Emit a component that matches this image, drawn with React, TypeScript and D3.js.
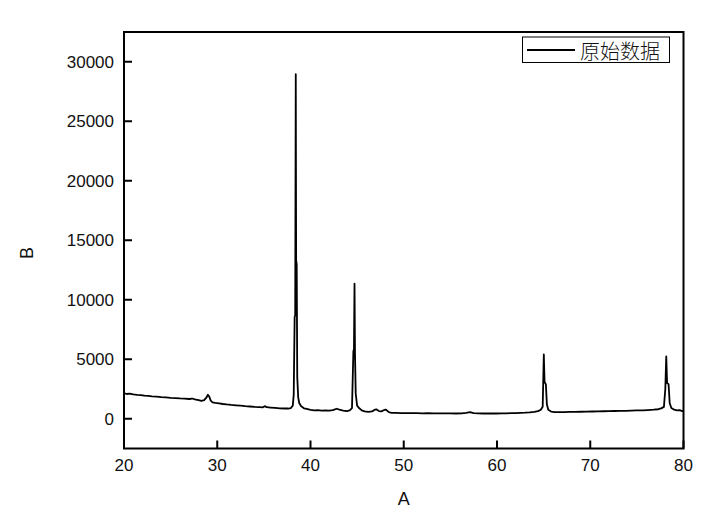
import React from 'react';
import * as d3 from 'd3';

// diffraction scan: angle (A) vs. counts (B)
const angle = [
  20.0, 20.3, 20.6, 21.0, 21.4, 21.8, 22.2, 22.6, 23.0, 23.5, 24.0, 24.5, 25.0, 25.5, 26.0, 26.5,
  27.0, 27.3, 27.6, 28.0, 28.3, 28.6, 28.85, 29.0, 29.15, 29.3, 29.5, 29.8, 30.2, 30.6, 31.0, 31.5,
  32.0, 32.5, 33.0, 33.5, 34.0, 34.5, 34.9, 35.1, 35.3, 35.7, 36.2, 36.7, 37.2, 37.6, 37.9, 38.1,
  38.2, 38.3, 38.36, 38.42, 38.46, 38.52, 38.58, 38.68, 38.8, 39.0, 39.3, 39.6, 40.0, 40.4, 40.8, 41.2,
  41.6, 42.0, 42.4, 42.8, 43.1, 43.5, 43.9, 44.2, 44.45, 44.6, 44.66, 44.72, 44.77, 44.85, 45.0, 45.2,
  45.5, 45.8, 46.2, 46.6, 46.9, 47.1, 47.35, 47.6, 47.9, 48.1, 48.4, 48.7, 49.2, 49.7, 50.2, 50.8,
  51.4, 52.0, 52.6, 53.2, 53.8, 54.4, 55.0, 55.6, 56.2, 56.7, 57.1, 57.5, 58.0, 58.5, 59.0, 59.5,
  60.0, 60.5, 61.0, 61.5, 62.0, 62.5, 63.0, 63.5, 64.0, 64.4, 64.7, 64.9, 65.02, 65.1, 65.16, 65.24,
  65.35, 65.5, 65.8, 66.2, 66.7, 67.2, 67.8, 68.4, 69.0, 69.6, 70.2, 70.8, 71.4, 72.0, 72.6, 73.2,
  73.8, 74.4, 75.0, 75.6, 76.2, 76.8, 77.3, 77.6, 77.9, 78.05, 78.15, 78.24, 78.32, 78.4, 78.52, 78.7,
  79.0, 79.3, 79.6, 79.8, 80.0,
];
const counts = [
  2150, 2080, 2110, 2040, 2000, 1990, 1940, 1920, 1880, 1860, 1820, 1790, 1760, 1740, 1710, 1690,
  1660, 1700, 1620, 1560, 1500, 1560, 1800, 2020, 1850, 1520, 1380, 1330, 1290, 1240, 1200, 1160,
  1130, 1100, 1060, 1030, 1000, 980, 960, 1060, 970, 940, 910, 880, 860, 860, 900, 1100,
  2000, 8550, 8700, 28950, 13300, 13000, 3500, 1800, 1300, 1050, 880, 820, 740, 710, 720, 690,
  700, 680, 720, 840, 760, 690, 640, 700, 900, 5700, 5800, 11350, 5500, 2100, 1100, 900,
  700, 620, 580, 620, 760, 780, 640, 620, 740, 760, 560, 500, 490, 480, 470, 480,
  470, 460, 470, 450, 460, 450, 460, 440, 450, 500, 560, 480, 450, 440, 440, 450,
  440, 460, 450, 470, 480, 500, 510, 540, 580, 640, 760, 1000, 5400, 3100, 3000, 2900,
  1200, 750, 600, 560, 550, 560, 570, 580, 590, 600, 610, 620, 630, 640, 650, 660,
  670, 690, 700, 710, 730, 760, 800, 870, 1000, 2500, 5240, 3000, 2950, 2900, 1300, 900,
  760, 700, 720, 650, 640,
];

const xTicks = [20, 30, 40, 50, 60, 70, 80];
const yTicks = [0, 5000, 10000, 15000, 20000, 25000, 30000];
const seriesName = '原始数据';
const xTitle = 'A';
const yTitle = 'B';

const W = 709;
const H = 525;
const plot = { left: 124, right: 683.5, top: 32, bottom: 448.5 };
const tickFont = '"Liberation Sans", Arial, sans-serif';

export default function App() {
  const x = d3.scaleLinear().domain([20, 80]).range([plot.left, plot.right]);
  const y = d3.scaleLinear().domain([-2500, 32500]).range([plot.bottom, plot.top]);

  const points: [number, number][] = angle.map((a, i) => [a, counts[i]]);
  const line = d3.line<[number, number]>()
    .x(d => x(d[0]))
    .y(d => y(d[1]));

  return (
    <svg width={W} height={H} style={{ position: 'absolute', left: 0, top: 0, background: '#fff' }}>
      <rect x={0} y={0} width={W} height={H} fill="#fff" />

      {/* data */}
      <path d={line(points) || ''} fill="none" stroke="#000" strokeWidth={1.8} strokeLinejoin="round" />

      {/* frame */}
      <rect
        x={plot.left}
        y={plot.top}
        width={plot.right - plot.left}
        height={plot.bottom - plot.top}
        fill="none"
        stroke="#000"
        strokeWidth={2}
      />

      {/* x axis ticks, pointing inward */}
      {xTicks.map(t => (
        <g key={'x' + t}>
          <line x1={x(t)} x2={x(t)} y1={plot.bottom} y2={plot.bottom - 8} stroke="#000" strokeWidth={2} />
          <text x={x(t)} y={471} textAnchor="middle" fontFamily={tickFont} fontSize={17} fill="#111">
            {t}
          </text>
        </g>
      ))}

      {/* y axis ticks */}
      {yTicks.map(t => (
        <g key={'y' + t}>
          <line x1={plot.left} x2={plot.left + 8} y1={y(t)} y2={y(t)} stroke="#000" strokeWidth={2} />
          <text
            x={plot.left - 10}
            y={y(t) + 6}
            textAnchor="end"
            fontFamily={tickFont}
            fontSize={17}
            fill="#111"
          >
            {t}
          </text>
        </g>
      ))}

      {/* axis titles */}
      <text x={(plot.left + plot.right) / 2} y={505} textAnchor="middle" fontFamily={tickFont} fontSize={18} fill="#111">
        {xTitle}
      </text>
      <text
        transform={`translate(33,253) rotate(-90)`}
        textAnchor="middle"
        fontFamily={tickFont}
        fontSize={18}
        fill="#111"
      >
        {yTitle}
      </text>

      {/* legend */}
      <g>
        <rect x={522.5} y={37} width={147} height={25.5} fill="#fff" stroke="#000" strokeWidth={1} />
        <line x1={527} x2={575} y1={50} y2={50} stroke="#000" strokeWidth={1.8} />
        <text
          x={580}
          y={50}
          dominantBaseline="central"
          fontFamily='"Noto Sans CJK SC", sans-serif'
          fontSize={20}
          fontWeight={300}
          fill="#111"
        >
          {seriesName}
        </text>
      </g>
    </svg>
  );
}
